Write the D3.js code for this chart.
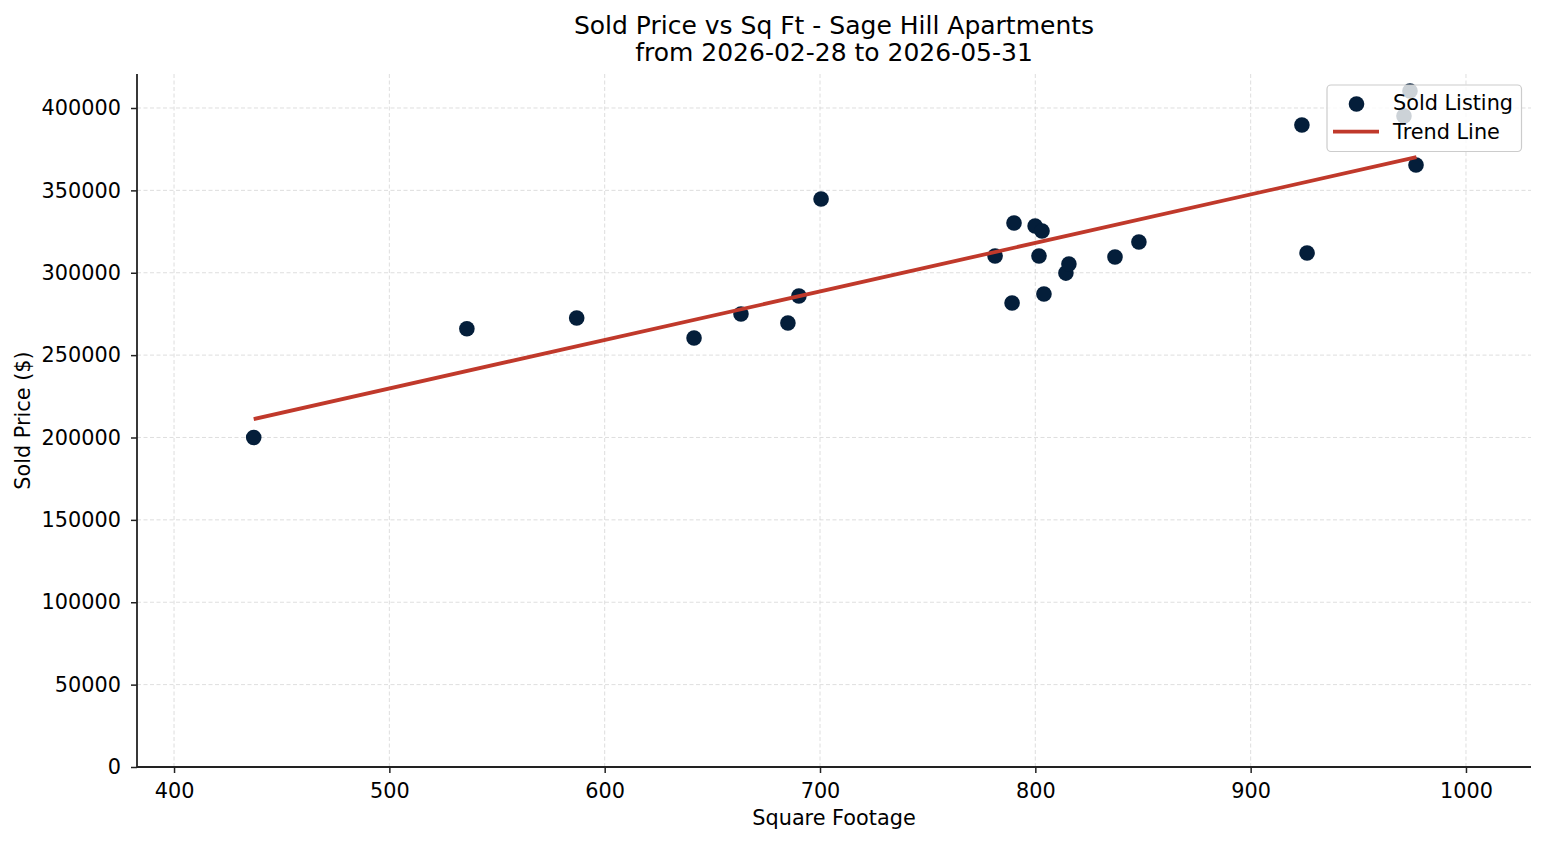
<!DOCTYPE html>
<html>
<head>
<meta charset="utf-8">
<script src="https://cdn.jsdelivr.net/npm/d3@7"></script>
<style>
  html, body { margin: 0; padding: 0; background: #fff; }
  text { font-family: "DejaVu Sans", sans-serif; fill: #000; }
</style>
</head>
<body>
<svg id="chart" width="1547" height="845"></svg>
<script>
const titleLines = ["Sold Price vs Sq Ft - Sage Hill Apartments", "from 2026-02-28 to 2026-05-31"];
const xLabel = "Square Footage";
const yLabel = "Sold Price ($)";
const xTicks = [400, 500, 600, 700, 800, 900, 1000];
const yTicks = [0, 50000, 100000, 150000, 200000, 250000, 300000, 350000, 400000];
const sqft  = [437, 536, 587, 641.5, 663.3, 685.1, 690.2, 700.5, 781.3, 789.2, 790.1, 799.9, 803.1, 801.7, 804.0, 814.2, 815.6, 837.0, 848.1, 923.8, 926.2, 974.0, 971.2, 976.8];
const price = [200000, 266000, 272500, 260400, 275000, 269500, 285900, 344800, 310200, 281600, 330200, 328400, 325300, 310200, 287100, 299800, 305300, 309600, 318700, 389700, 312000, 410300, 395200, 365400];
const trendX = [437, 977];
const trendY = [211200, 370200];
const legendLabels = ["Sold Listing", "Trend Line"];

const pointColor = "#041e3a";
const lineColor = "#c0392b";
const FS = 20.8;

const svg = d3.select("#chart");
const m = {left: 137, right: 1531, top: 74, bottom: 767};

const x = d3.scaleLinear().domain([382.8, 1030.2]).range([m.left, m.right]);
const y = d3.scaleLinear().domain([0, 420637]).range([m.bottom, m.top]);

// grid
const grid = svg.append("g");
grid.selectAll(".gx").data(xTicks).enter().append("line")
  .attr("x1", d => x(d)).attr("x2", d => x(d))
  .attr("y1", m.top).attr("y2", m.bottom)
  .attr("stroke", "#d6d6d6").attr("stroke-width", 0.8).attr("stroke-dasharray", "4,2.5");
grid.selectAll(".gy").data(yTicks).enter().append("line")
  .attr("x1", m.left).attr("x2", m.right)
  .attr("y1", d => y(d)).attr("y2", d => y(d))
  .attr("stroke", "#d6d6d6").attr("stroke-width", 0.8).attr("stroke-dasharray", "4,2.5");

// axes
const xAxis = svg.append("g").attr("transform", `translate(0,${m.bottom})`)
  .call(d3.axisBottom(x).tickValues(xTicks).tickFormat(d3.format("d")).tickSizeOuter(0).tickSize(6).tickPadding(11));
const yAxis = svg.append("g").attr("transform", `translate(${m.left},0)`)
  .call(d3.axisLeft(y).tickValues(yTicks).tickFormat(d3.format("d")).tickSizeOuter(0).tickSize(6).tickPadding(10));
[xAxis, yAxis].forEach(a => {
  a.select(".domain").attr("stroke", "#222").attr("stroke-width", 1.8);
  a.selectAll(".tick line").attr("stroke", "#222").attr("stroke-width", 1.5);
  a.selectAll(".tick text").style("font-family", "DejaVu Sans").style("font-size", FS + "px").attr("fill", "#000");
});
xAxis.selectAll(".tick text").attr("dy", "0");
xAxis.selectAll(".tick text").attr("y", 31);
xAxis.select(".domain").attr("d", `M${m.left},0H${m.right}`);
yAxis.select(".domain").attr("d", `M0,${m.top}V${m.bottom}`);

// points
svg.append("g").selectAll("circle").data(sqft).enter().append("circle")
  .attr("cx", (d) => x(d)).attr("cy", (d, i) => y(price[i]))
  .attr("r", 7.8).attr("fill", pointColor);

// trend line
svg.append("path")
  .datum(trendX.map((d, i) => [d, trendY[i]]))
  .attr("d", d3.line().x(d => x(d[0])).y(d => y(d[1])))
  .attr("stroke", lineColor).attr("stroke-width", 3.8).attr("fill", "none");

// title
svg.append("text").attr("x", (m.left + m.right) / 2).attr("y", 34)
  .attr("text-anchor", "middle").style("font-size", "25px").text(titleLines[0]);
svg.append("text").attr("x", (m.left + m.right) / 2).attr("y", 61)
  .attr("text-anchor", "middle").style("font-size", "25px").text(titleLines[1]);

// axis labels
svg.append("text").attr("x", (m.left + m.right) / 2).attr("y", 825)
  .attr("text-anchor", "middle").style("font-size", FS + "px").text(xLabel);
svg.append("text").attr("transform", `translate(30,${(m.top + m.bottom) / 2}) rotate(-90)`)
  .attr("text-anchor", "middle").style("font-size", FS + "px").text(yLabel);

// legend
const lg = svg.append("g");
lg.append("rect").attr("x", 1327).attr("y", 85).attr("width", 194.5).attr("height", 66.5)
  .attr("rx", 4).attr("fill", "#fff").attr("fill-opacity", 0.8)
  .attr("stroke", "#cccccc").attr("stroke-width", 1.2);
lg.append("circle").attr("cx", 1356.5).attr("cy", 104).attr("r", 7.8).attr("fill", pointColor);
lg.append("line").attr("x1", 1333).attr("x2", 1379).attr("y1", 131.7).attr("y2", 131.7)
  .attr("stroke", lineColor).attr("stroke-width", 3.8);
lg.append("text").attr("x", 1393).attr("y", 109.5).style("font-size", FS + "px").text(legendLabels[0]);
lg.append("text").attr("x", 1393).attr("y", 139).style("font-size", FS + "px").text(legendLabels[1]);
</script>
</body>
</html>
